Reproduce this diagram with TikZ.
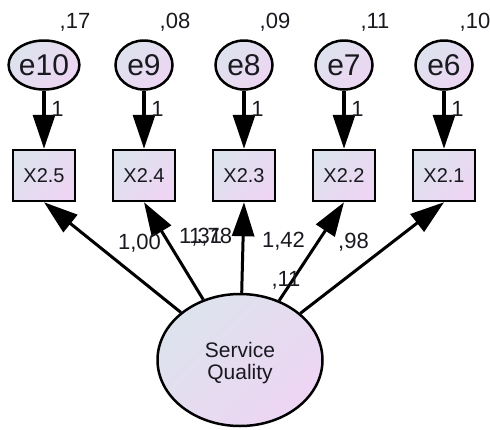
\documentclass[tikz,border=0pt]{standalone}
\usepackage{fontspec}
\setmainfont{Liberation Sans}
\usetikzlibrary{arrows.meta,shapes.geometric}
\definecolor{shadeA}{RGB}{221,227,237}
\definecolor{shadeB}{RGB}{237,213,243}
\definecolor{ink}{RGB}{25,25,32}
\begin{document}
\begin{tikzpicture}[x=1pt,y=-1pt,
  fillgrad/.style={left color=shadeA, right color=shadeB, shading angle=45},
  err/.style={ellipse, draw, line width=2.5pt, fillgrad, minimum width=57pt,
    minimum height=49pt, inner sep=0pt, text=ink, font=\fontsize{30}{30}\selectfont},
  obs/.style={rectangle, draw, line width=2.5pt, fillgrad, minimum width=62pt,
    minimum height=51pt, inner sep=0pt, text=ink, font=\fontsize{20}{20}\selectfont},
  lat/.style={ellipse, draw, line width=2.5pt, fillgrad, minimum width=165pt,
    minimum height=132pt, inner sep=0pt, align=center, text=ink,
    font=\fontsize{21}{22}\selectfont},
  lbl/.style={inner sep=0pt, text=ink, font=\fontsize{22}{22}\selectfont},
  path/.style={line width=3pt, -{Triangle[length=34pt,width=22pt]}}
]
\useasboundingbox (0,0) rectangle (490,429);

% error terms, indicators and their unit loadings
\foreach \n/\v/\m [count=\k from 0] in {10/17/5, 9/08/4, 8/09/3, 7/11/2, 6/10/1} {
  \pgfmathsetmacro\xx{44+100*\k}
  \node[err] (e\n) at (\xx,65) {e\n};
  \node[lbl] (v\n) at (\xx+31,22) {,\v};
  \node[obs] (x\m) at (\xx,175.5) {X2.\m};
  \draw[path, line width=3.5pt] (e\n) -- (x\m);
  \node[lbl] (u\n) at (\xx+13.5,109) {1};
}

% latent factor
\node[lat] (sq) at (240,360) {};
\node[text=ink, align=center, font=\fontsize{21}{22}\selectfont] (sqt) at (240,363) {Service\\Quality};
\foreach \m in {5,4,3,2,1}
  \draw[path] (sq) -- (x\m.south);

% estimates
\node[lbl] (w5) at (139.5,243.5) {1,00};
\node[lbl, anchor=west] (w4) at (179,237) {1,31};
\node[lbl, anchor=west] (w4b) at (189,237) {1,78};
\node[lbl] (w3) at (283.5,241) {1,42};
\node[lbl] (w2) at (353.5,242.5) {,98};
\node[lbl] (m2) at (286,280) {,11};
\end{tikzpicture}
\end{document}
